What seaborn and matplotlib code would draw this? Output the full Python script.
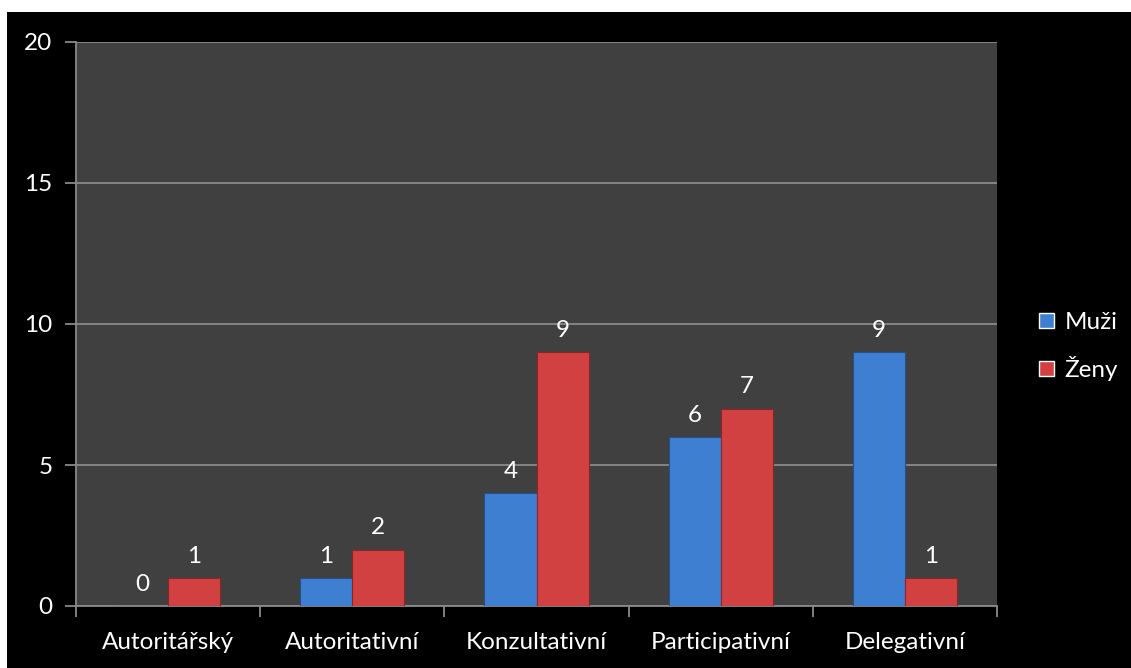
import matplotlib
matplotlib.use("Agg")
import matplotlib.pyplot as plt
import seaborn as sns
import pandas as pd
from matplotlib.patches import Rectangle

categories = ["Autoritářský", "Autoritativní", "Konzultativní", "Participativní", "Delegativní"]
muzi = [0, 1, 4, 6, 9]
zeny = [1, 2, 9, 7, 1]
series_names = ["Muži", "Ženy"]
yticks = [0, 5, 10, 15, 20]

sns.set_theme(style="white")
plt.rcParams['font.family'] = ['Lato', 'DejaVu Sans']

df = pd.DataFrame({
    "kategorie": categories * 2,
    "pohlavi": [series_names[0]] * len(categories) + [series_names[1]] * len(categories),
    "pocet": muzi + zeny,
})

W, H = 1131, 668
FS = 17.5
fig = plt.figure(figsize=(W / 100, H / 100), dpi=100)
fig.patch.set_facecolor("white")
fig.patches.append(Rectangle((7 / W, 0), 1 - 7 / W, 1 - 12 / H, transform=fig.transFigure,
                             facecolor="black", edgecolor="none", zorder=-10))

ax = fig.add_axes([76 / W, (H - 606) / H, (997 - 76) / W, (606 - 42) / H])
ax.set_facecolor("#404040")

palette = {"Muži": "#3f7fd2", "Ženy": "#d24141"}
sns.barplot(data=df, x="kategorie", y="pocet", hue="pohlavi", palette=palette,
            width=0.565, ax=ax, legend=True, saturation=1, zorder=3)

edge = {"Muži": "#24518c", "Ženy": "#8e2424"}
for cont, name in zip(ax.containers, series_names):
    for bar in cont:
        bar.set_edgecolor(edge[name])
        bar.set_linewidth(0.8)
    ax.bar_label(cont, labels=[str(int(v)) for v in cont.datavalues], padding=8,
                 color="white", fontsize=FS)

ax.set_ylim(0, 20)
ax.set_xlim(-0.5, len(categories) - 0.5)
ax.set_yticks(yticks)
ax.set_yticklabels([str(t) for t in yticks], color="white", fontsize=FS)
ax.set_xticks(range(len(categories)))
ax.set_xticklabels(categories, color="white", fontsize=FS)
ax.set_xlabel("")
ax.set_ylabel("")

ax.yaxis.grid(True, color="#8a8a8a", linewidth=1.3, zorder=1)
ax.set_axisbelow(True)
for s in ["top", "right"]:
    ax.spines[s].set_visible(False)
for s in ["left", "bottom"]:
    ax.spines[s].set_visible(True)
    ax.spines[s].set_color("#8a8a8a")
    ax.spines[s].set_linewidth(1.3)

ax.tick_params(axis="y", which="major", length=8, width=1.3, color="#8a8a8a", pad=9, left=True)
ax.tick_params(axis="x", which="major", length=0, pad=19)
ax.set_xticks([i - 0.5 for i in range(len(categories) + 1)], minor=True)
ax.tick_params(axis="x", which="minor", length=8, width=1.3, color="#8a8a8a", bottom=True)

leg = ax.legend(loc="center left", bbox_to_anchor=(1.022, 0.46), frameon=False,
                fontsize=FS, labelcolor="white", handlelength=0.6, handleheight=0.6,
                handletextpad=0.45, labelspacing=0.95)

fig.savefig("out.png", dpi=100, facecolor=fig.get_facecolor())
